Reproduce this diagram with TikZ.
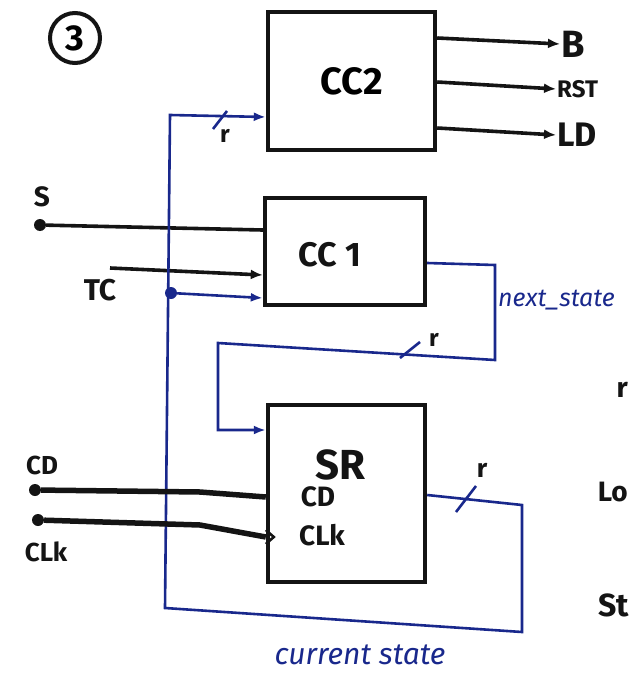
\documentclass[tikz,border=0pt]{standalone}
\usepackage{fontspec}
\setmainfont{Fira Sans}
\usetikzlibrary{arrows.meta,calc}
\definecolor{pen}{RGB}{20,20,20}
\definecolor{ink}{RGB}{25,40,140}
\tikzset{
  blockbox/.style={draw=pen,line width=4.4pt,inner sep=0pt},
  wire/.style={draw=pen,line width=3.6pt},
  thickwire/.style={draw=pen,line width=5.5pt},
  bus/.style={draw=ink,line width=2.6pt},
  blk/.style={-{Latex[length=12pt,width=10pt]}},
  blu/.style={-{Latex[length=12pt,width=9pt]}},
  lab/.style={text=pen,font=\fontsize{26}{26}\selectfont\bfseries,inner sep=1pt},
  blab/.style={text=ink,font=\fontsize{30}{30}\selectfont\itshape,inner sep=1pt},
  dot/.style={circle,fill=#1,inner sep=0pt,minimum size=12pt},
}
\begin{document}
\begin{tikzpicture}[x=1pt,y=-1pt]
\useasboundingbox (0,0) rectangle (631,677);

% circled 3
\node[draw=pen,line width=4pt,circle,minimum size=50pt,inner sep=0pt,font=\fontsize{36}{36}\selectfont\bfseries] (three) at (75,38) {3};

% blocks
\node[blockbox,minimum width=167pt,minimum height=138pt,font=\fontsize{38}{38}\selectfont\bfseries] (cc2) at (351.5,81) {CC2};
\node[blockbox,minimum width=160pt,minimum height=107pt] (cc1) at (345,251.5) {};
\node[font=\fontsize{34}{34}\selectfont\bfseries,text=pen] (cc1t) at (330,255) {CC 1};
\node[blockbox,minimum width=157pt,minimum height=177pt] (sr) at (346.5,493.5) {};
\node[lab,font=\fontsize{42}{42}\selectfont\bfseries] (srt) at (340,465) {SR};
\node[lab,font=\fontsize{28}{28}\selectfont\bfseries] (cdin) at (318,497) {CD};
\node[lab,font=\fontsize{28}{28}\selectfont\bfseries] (clkin) at (322,535) {CLk};

% CC2 outputs
\node[lab,font=\fontsize{38}{38}\selectfont\bfseries,anchor=west] (ob) at (560,44) {B};
\node[lab,font=\fontsize{24}{24}\selectfont\bfseries,anchor=west] (orst) at (556,89) {RST};
\node[lab,font=\fontsize{34}{34}\selectfont\bfseries,anchor=west] (old) at (556,135) {LD};
\draw[wire,blk] (cc2.east |- 0,38) -- (ob.west);
\draw[wire,blk] (cc2.east |- 0,82) -- (orst.west);
\draw[wire,blk] (cc2.east |- 0,128) -- (old.west);

% inputs S and TC
\node[lab,font=\fontsize{28}{28}\selectfont\bfseries] (s) at (42,197) {S};
\node[dot=pen] (sdot) at (40,225) {};
\draw[wire] (sdot) -- (cc1.west |- 0,230);
\node[lab,font=\fontsize{30}{30}\selectfont\bfseries] (tc) at (100,290) {TC};
\coordinate (tcstart) at (110,268);
\draw[wire,blk] (tcstart) -- (cc1.west |- 0,275);

% current state loop (blue)
\coordinate (q1) at (522,505);
\coordinate (q2) at (522,632);
\coordinate (q3) at (165,608);
\coordinate (q4) at (170,115);
\draw[bus,blu] (sr.east |- 0,495) -- (q1) -- (q2) -- (q3) -- (q4) -- (cc2.west |- 0,117);
\node[dot=ink] (tcdot) at (171,293) {};
\draw[bus,blu] (tcdot) -- (cc1.west |- 0,298);
% slashes and widths
\coordinate (sl1) at (220,120);
\draw[bus] ($(sl1)+(-7,9)$) -- ($(sl1)+(7,-9)$);
\node[lab,font=\fontsize{24}{24}\selectfont\bfseries] (r1) at (225,136) {r};
\coordinate (sl3) at (466,499);
\draw[bus] ($(sl3)+(-10,13)$) -- ($(sl3)+(10,-13)$);
\node[lab,font=\fontsize{26}{26}\selectfont\bfseries] (r3) at (482,470) {r};
\node[blab] (cs) at (360,655) {current state};

% next state
\coordinate (n1) at (495,265);
\coordinate (n2) at (495,360);
\coordinate (n3) at (218,343);
\coordinate (n4) at (218,430);
\draw[bus,blu] (cc1.east |- 0,263) -- (n1) -- (n2) -- (n3) -- (n4) -- (sr.west |- 0,430);
\coordinate (sl2) at (410,350);
\draw[bus] ($(sl2)+(-10,8)$) -- ($(sl2)+(10,-8)$);
\node[lab,font=\fontsize{24}{24}\selectfont\bfseries] (r2) at (434,340) {r};
\node[blab,font=\fontsize{25}{25}\selectfont\itshape,anchor=west] (ns) at (497,300) {next\_state};

% CD and CLk
\node[lab] (cd) at (42,465) {CD};
\node[dot=pen] (cddot) at (35,490) {};
\draw[thickwire] (cddot) -- (200,492) -- (sr.west |- 0,497);
\node[lab] (clk) at (46,552) {CLk};
\node[dot=pen] (clkdot) at (38,520) {};
\draw[thickwire] (clkdot) -- (200,525) -- (sr.west |- 0,537);
\draw[pen,line width=2.6pt] (sr.west |- 0,530) -- ++(8,7) -- ++(-8,7);

% notes at the right edge (cut off in the reference)
\node[lab,font=\fontsize{28}{28}\selectfont\bfseries,anchor=east] (e1) at (629,390) {r};
\node[lab,font=\fontsize{28}{28}\selectfont\bfseries,anchor=east] (e2) at (629,492) {Lo};
\node[lab,font=\fontsize{32}{32}\selectfont\bfseries,anchor=east] (e3) at (630,605) {St};
\end{tikzpicture}
\end{document}
